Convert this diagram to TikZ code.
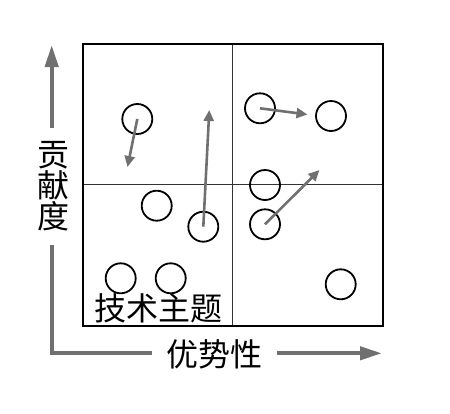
\documentclass[tikz,border=0pt]{standalone}
\usepackage{fontspec}
\newfontfamily\cjk{Noto Sans CJK SC}
\usetikzlibrary{arrows.meta}
\definecolor{agray}{HTML}{707070}
\tikzset{
  circ/.style={circle,draw=black,line width=1.8pt,minimum size=30pt,inner sep=0pt},
  garrow/.style={draw=agray,line width=2.6pt,-{Triangle[length=11pt,width=10pt]}},
  axisline/.style={draw=agray,line width=4.2pt},
  axisarrow/.style={axisline,-{Triangle[length=22pt,width=13pt]}},
  lab/.style={font=\cjk\fontsize{32}{31}\selectfont,inner sep=0pt,text=black},
}
\begin{document}
\begin{tikzpicture}[x=1pt,y=-1pt]
\useasboundingbox (0,0) rectangle (450,413);
% quadrant frame
\draw[line width=1pt,draw=black!80] (232.3,44) -- (232.3,326);
\draw[line width=1pt,draw=black!80] (82.7,184.3) -- (382.7,184.3);
\draw[line width=2.4pt] (82.7,44) rectangle (382.7,326);
% circles
\node[circ] (c1) at (137.3,119) {};
\node[circ] (c2) at (260,108.3) {};
\node[circ] (c3) at (331,116) {};
\node[circ] (c4) at (265,185) {};
\node[circ] (c5) at (156.7,205.7) {};
\node[circ] (c6) at (203.3,226.7) {};
\node[circ] (c7) at (265,224.3) {};
\node[circ] (c8) at (120.7,278.3) {};
\node[circ] (c9) at (170.7,278.3) {};
\node[circ] (c10) at (340.7,284.3) {};
% arrow ends
\coordinate (e1) at (127.5,167);
\coordinate (e2) at (209.3,110);
\coordinate (e3) at (307.5,114.5);
\coordinate (e4) at (319.5,170);
\draw[garrow] (c1.center) -- (e1);
\draw[garrow] (c6.center) -- (e2);
\draw[garrow] (c2.center) -- (e3);
\draw[garrow] (c7.center) -- (e4);
% label
\node[lab] (topic) at (158.5,308.5) {技术主题};
% axes
\node[lab,align=center,minimum height=117pt] (ylab) at (53.5,186.5) {贡\\献\\度};
\node[lab,minimum width=125pt] (xlab) at (214.2,354) {优势性};
\coordinate (ytip) at (51.7,45);
\coordinate (corner) at (51.7,353.3);
\coordinate (xtip) at (382,353.3);
\draw[axisarrow] (ylab.north -| ytip) -- (ytip);
\draw[axisline] (ylab.south -| ytip) -- (corner) -- (xlab.west |- corner);
\draw[axisarrow] (xlab.east |- corner) -- (xtip);
\end{tikzpicture}
\end{document}
